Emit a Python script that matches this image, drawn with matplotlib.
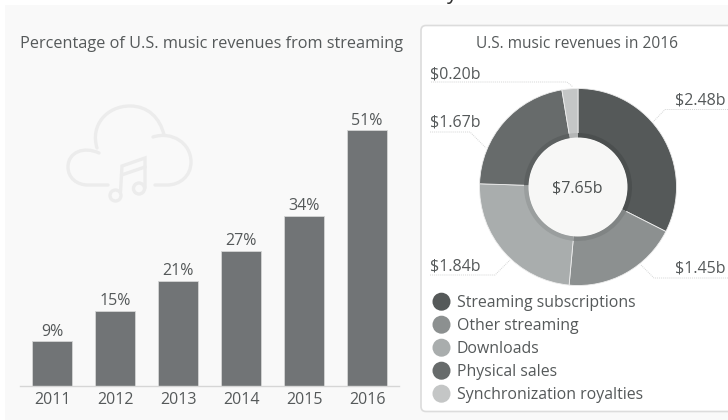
import matplotlib
matplotlib.use("Agg")
import matplotlib.pyplot as plt
from matplotlib.patches import Rectangle, FancyBboxPatch, PathPatch, Circle
from matplotlib.path import Path

plt.rcParams['font.family'] = ['Open Sans', 'DejaVu Sans']

years = ['2011', '2012', '2013', '2014', '2015', '2016']
shares = [9, 15, 21, 27, 34, 51]
segments = ['Streaming subscriptions', 'Other streaming', 'Downloads', 'Physical sales', 'Synchronization royalties']
revenues = [2.48, 1.45, 1.84, 1.67, 0.20]
rev_labels = ['$2.48b', '$1.45b', '$1.84b', '$1.67b', '$0.20b']
colors = ['#555959', '#8c9090', '#a9adad', '#676b6b', '#c4c6c6']
inner_colors = ['#4b4f4f', '#808484', '#9a9e9e', '#5c6060', '#b4b6b6']
TXT = '#55595a'
W, H = 728, 420
FS = 11.5

fig = plt.figure(figsize=(W/100, H/100), dpi=100, facecolor='white')

# pixel-space layer for decoration and text
bg = fig.add_axes([0, 0, 1, 1], zorder=0)
bg.set_xlim(0, W); bg.set_ylim(H, 0); bg.axis('off')
bg.add_patch(Rectangle((5, 5), W-5, 415, fc='#f9f9f9', ec='none'))
bg.add_patch(FancyBboxPatch((421, 25.5), 330, 386, boxstyle='round,pad=0,rounding_size=5',
                            fc='white', ec='#dcdcdc', lw=1.2))
bg.text(452, -1.5, 'y', fontsize=15, color='#333333', ha='center', va='baseline', clip_on=False)
bg.text(211.5, 44, 'Percentage of U.S. music revenues from streaming', fontsize=11.7,
        color=TXT, ha='center', va='center', fontweight='medium')
bg.text(577, 44, 'U.S. music revenues in 2016', fontsize=11.2, color=TXT, ha='center',
        va='center', fontweight='medium')

# cloud icon
ICON = '#ececec'
M, L, C4 = Path.MOVETO, Path.LINETO, Path.CURVE4
def stroke(verts, codes, lw=2.4):
    bg.add_patch(PathPatch(Path(verts, codes), fc='none', ec=ICON, lw=lw, capstyle='round'))
stroke([(99, 153), (84, 146), (68, 152), (68, 167), (68, 178), (77, 185), (88, 185), (108, 185)],
       [M, C4, C4, C4, C4, C4, C4, L])
stroke([(97, 148), (90, 125), (107, 106), (130, 106), (148, 106), (160, 118), (164, 135)],
       [M, C4, C4, C4, C4, C4, C4])
stroke([(153, 137), (172, 131), (191, 143), (191, 162), (191, 176), (180, 185), (167, 185), (155, 185)],
       [M, C4, C4, C4, C4, C4, C4, L])
stroke([(120.5, 192), (122, 166), (145, 158), (145, 188)], [M, L, L, L])
stroke([(121.5, 175), (145, 167)], [M, L])
bg.add_patch(Circle((115.5, 195.5), 5.5, fc='none', ec=ICON, lw=2.4))
bg.add_patch(Circle((139, 188.5), 5.5, fc='none', ec=ICON, lw=2.4))

# bars
ax = fig.add_axes([20/W, 1-386/H, 379/W, 280/H], zorder=2)
ax.patch.set_alpha(0)
ax.bar(range(len(years)), shares, width=40/63, color='#717476', edgecolor='#d5d6d6', linewidth=0.6)
ax.set_xlim((20-52)/63, (399-52)/63)
ax.set_ylim(0, 280/5.01)
for s in ('top', 'left', 'right'):
    ax.spines[s].set_visible(False)
ax.spines['bottom'].set_color('#d6d6d6')
ax.spines['bottom'].set_linewidth(1.0)
ax.set_yticks([])
ax.set_xticks(range(len(years)), years)
ax.tick_params(axis='x', length=0, pad=4, labelsize=FS, labelcolor=TXT)
for i, v in enumerate(shares):
    ax.annotate(f'{v}%', (i, v), xytext=(0, 1), textcoords='offset points', ha='center',
                va='bottom', fontsize=FS, color=TXT)

# donut
R, cx, cy = 98.5, 578, 187
pax = fig.add_axes([(cx-R)/W, 1-(cy+R)/H, 2*R/W, 2*R/H], zorder=2)
pax.pie(revenues, colors=colors, startangle=90, counterclock=False, radius=1,
        wedgeprops=dict(width=1-50/R, edgecolor='#eeeeee', linewidth=0.6))
pax.pie(revenues, colors=inner_colors, startangle=90, counterclock=False, radius=54/R,
        wedgeprops=dict(width=5/R, edgecolor='none'))
pax.add_patch(Circle((0, 0), 49.5/R, fc='#f7f7f6', ec='none', zorder=5))
pax.set_xlim(-1, 1); pax.set_ylim(-1, 1)
top = fig.add_axes([0, 0, 1, 1], zorder=3)
top.set_xlim(0, W); top.set_ylim(H, 0); top.axis('off')
top.text(577.5, 188, '$7.65b', fontsize=FS, color='#4d5151', ha='center', va='center', fontweight='medium')

# leader lines and value labels
LEAD = dict(color='#d5d6d6', lw=0.7, ls=(0, (1, 1)))
leaders = [((725, 101, 'right'), [(728, 109.5), (665, 109.5), (653, 122)]),
           ((725, 269, 'right'), [(728, 278), (654, 278), (641, 265)]),
           ((430, 266, 'left'), [(430, 275), (495, 275), (510, 260)]),
           ((430, 123, 'left'), [(430, 132), (470, 132), (486, 148)]),
           ((430, 74, 'left'), [(431, 82), (567, 82), (573, 87)])]
for (pos, pts), lab in zip(leaders, rev_labels):
    top.plot(*zip(*pts), **LEAD)
    top.text(pos[0], pos[1], lab, fontsize=FS, color=TXT, ha=pos[2], va='center')

# legend
for i, (name, col) in enumerate(zip(segments, colors)):
    y = 301.7 + i*23
    top.add_patch(Circle((441.5, y), 9, fc=col, ec='none'))
    top.text(457, y+1.5, name, fontsize=11.4, color=TXT, ha='left', va='center')

fig.savefig('out.png', dpi=100, facecolor='white')
